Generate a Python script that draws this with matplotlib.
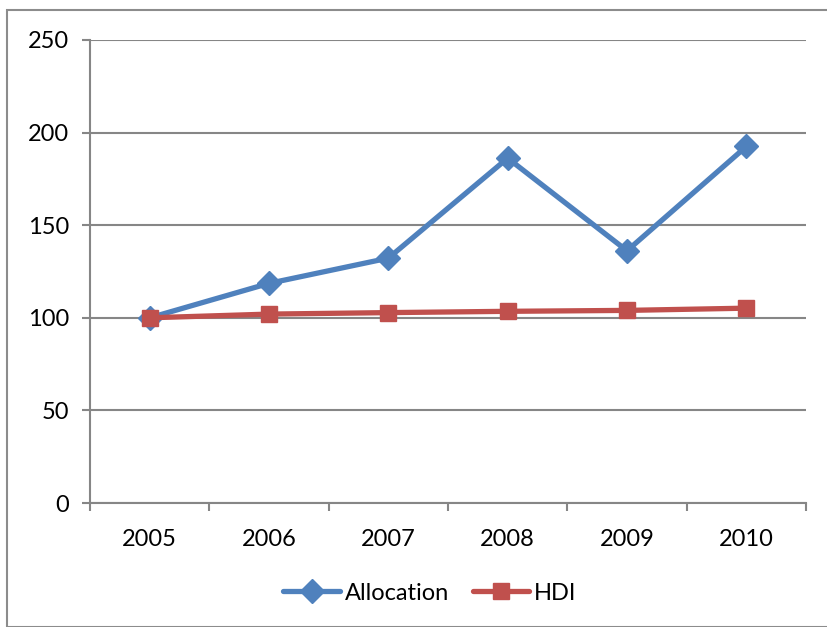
import matplotlib.pyplot as plt
from matplotlib.patches import Rectangle
import numpy as np

# yearly index values (2005 = 100)
years = ["2005", "2006", "2007", "2008", "2009", "2010"]
allocation = [100, 118.6, 132.2, 186.2, 136.2, 192.5]
hdi = [100, 102.0, 102.8, 103.5, 104.0, 105.2]

blue = "#4F81BD"
red = "#C0504D"
grid_grey = "#868686"

plt.rcParams["font.family"] = ["Lato", "DejaVu Sans"]

fig = plt.figure(figsize=(8.27, 6.27), dpi=100)
W, H = 827, 627
ax = fig.add_axes([90 / W, 1 - 503 / H, (806 - 90) / W, (503 - 40) / H])

# chart frame around the whole area
fig.patches.append(Rectangle((7 / W, 0), 1, 1 - 10 / H, transform=fig.transFigure,
                             fill=False, edgecolor="#8c8c8c", linewidth=1.5))

x = np.arange(len(years))
ax.plot(x, allocation, color=blue, linewidth=3.8, marker="D", markersize=12,
        label="Allocation", zorder=3, solid_capstyle="round")
ax.plot(x, hdi, color=red, linewidth=3.8, marker="s", markersize=12,
        label="HDI", zorder=4, solid_capstyle="round")

ax.set_xlim(-0.5, len(years) - 0.5)
ax.set_ylim(0, 250)
ax.set_yticks(range(0, 251, 50))
ax.yaxis.grid(True, color=grid_grey, linewidth=1.5)
ax.set_axisbelow(True)

# category labels centred, tick marks between categories
ax.set_xticks(x)
ax.set_xticklabels(years)
ax.set_xticks(np.arange(-0.5, len(years)), minor=True)
ax.tick_params(axis="x", which="major", length=0, pad=19, labelsize=17)
ax.tick_params(axis="x", which="minor", length=6, width=1.5, color=grid_grey)
ax.tick_params(axis="y", length=6, width=1.5, color=grid_grey, pad=9, labelsize=17)

for side in ["top", "right"]:
    ax.spines[side].set_visible(False)
for side in ["left", "bottom"]:
    ax.spines[side].set_color(grid_grey)
    ax.spines[side].set_linewidth(1.5)

ax.legend(loc="center", bbox_to_anchor=(430 / W, 1 - 593 / H),
          bbox_transform=fig.transFigure, ncol=2, frameon=False,
          fontsize=17, handlelength=2.4, handletextpad=0.2, columnspacing=1.0)

fig.savefig("out.png", dpi=100)
